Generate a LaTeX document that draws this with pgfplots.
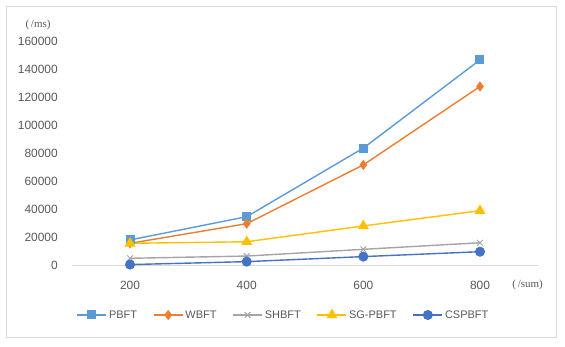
\documentclass[border=0pt]{standalone}
\usepackage{fontspec}
\setmainfont{Liberation Sans}
\newfontfamily\unitfont{Liberation Serif}
\usepackage{pgfplots}
\pgfplotsset{compat=1.18}
\definecolor{cPB}{HTML}{5B9BD5}
\definecolor{cWB}{HTML}{ED7D31}
\definecolor{cSH}{HTML}{A5A5A5}
\definecolor{cSG}{HTML}{FFC000}
\definecolor{cCS}{HTML}{4472C4}
\definecolor{tickgray}{HTML}{595959}
\definecolor{framegray}{HTML}{D9D9D9}
\begin{document}
\begin{tikzpicture}[x=1bp,y=1bp]
\path[use as bounding box] (0,0) rectangle (565,346);
\draw[framegray, line width=1bp] (6,9) rectangle (556,339);
\node[font=\unitfont\fontsize{11}{12}\selectfont, text=tickgray, inner sep=0pt] at (38,321) {(\,/ms)};
\node[font=\unitfont\fontsize{11}{12}\selectfont, text=tickgray, inner sep=0pt] at (527.5,61) {(\,/sum)};
\begin{axis}[
  scale only axis, width=466.6bp, height=224bp,
  at={(71.7bp,80.3bp)}, anchor=south west,
  xmin=100, xmax=900, ymin=0, ymax=160000,
  xtick={200,400,600,800}, xticklabels={200,400,600,800},
  ytick={0,20000,40000,60000,80000,100000,120000,140000,160000},
  yticklabels={0,20000,40000,60000,80000,100000,120000,140000,160000},
  axis x line*=bottom, axis y line*=left,
  x axis line style={framegray, line width=1bp, -},
  y axis line style={draw=none},
  major tick length=0pt,
  scaled y ticks=false,
  yticklabel style={font=\fontsize{12}{14}\selectfont, text=tickgray, inner sep=0pt, anchor=east, xshift=-13.7bp},
  xticklabel style={font=\fontsize{12}{14}\selectfont, text=tickgray, inner sep=0pt, anchor=base, yshift=-23.8bp},
  clip=false,
  every axis plot/.append style={line width=1.4bp},
  legend columns=5,
  legend style={at={(0.4538,-0.220)}, anchor=center, draw=none, fill=none,
    font=\fontsize{11}{12}\selectfont, text=tickgray,
    /tikz/every even column/.append style={column sep=14bp}},
  legend image code/.code={\draw[mark repeat=2,mark phase=2] plot coordinates {(0bp,0bp)(14.5bp,0bp)(29bp,0bp)};},
]
\addplot[color=cPB, mark=square*, mark size=3.8bp, mark options={fill=cPB, draw=cPB}] coordinates {(200,18400) (400,35000) (600,84000) (800,147000)};
\addlegendentry{PBFT}
\addplot[color=cWB, mark=diamond*, mark size=4bp, mark options={fill=cWB, draw=cWB}] coordinates {(200,16000) (400,30000) (600,72000) (800,128000)};
\addlegendentry{WBFT}
\addplot[color=cSH, mark=x, mark size=4bp, mark options={draw=cSH, line width=1bp}] coordinates {(200,5300) (400,6900) (600,11700) (800,16400)};
\addlegendentry{SHBFT}
\addplot[color=cSG, mark=triangle*, mark size=5bp, mark options={fill=cSG, draw=cSG}] coordinates {(200,16000) (400,17100) (600,28400) (800,39300)};
\addlegendentry{SG-PBFT}
\addplot[color=cCS, mark=*, mark size=4.3bp, mark options={fill=cCS, draw=cCS}] coordinates {(200,800) (400,2900) (600,6500) (800,10000)};
\addlegendentry{CSPBFT}
\end{axis}
\end{tikzpicture}
\end{document}
